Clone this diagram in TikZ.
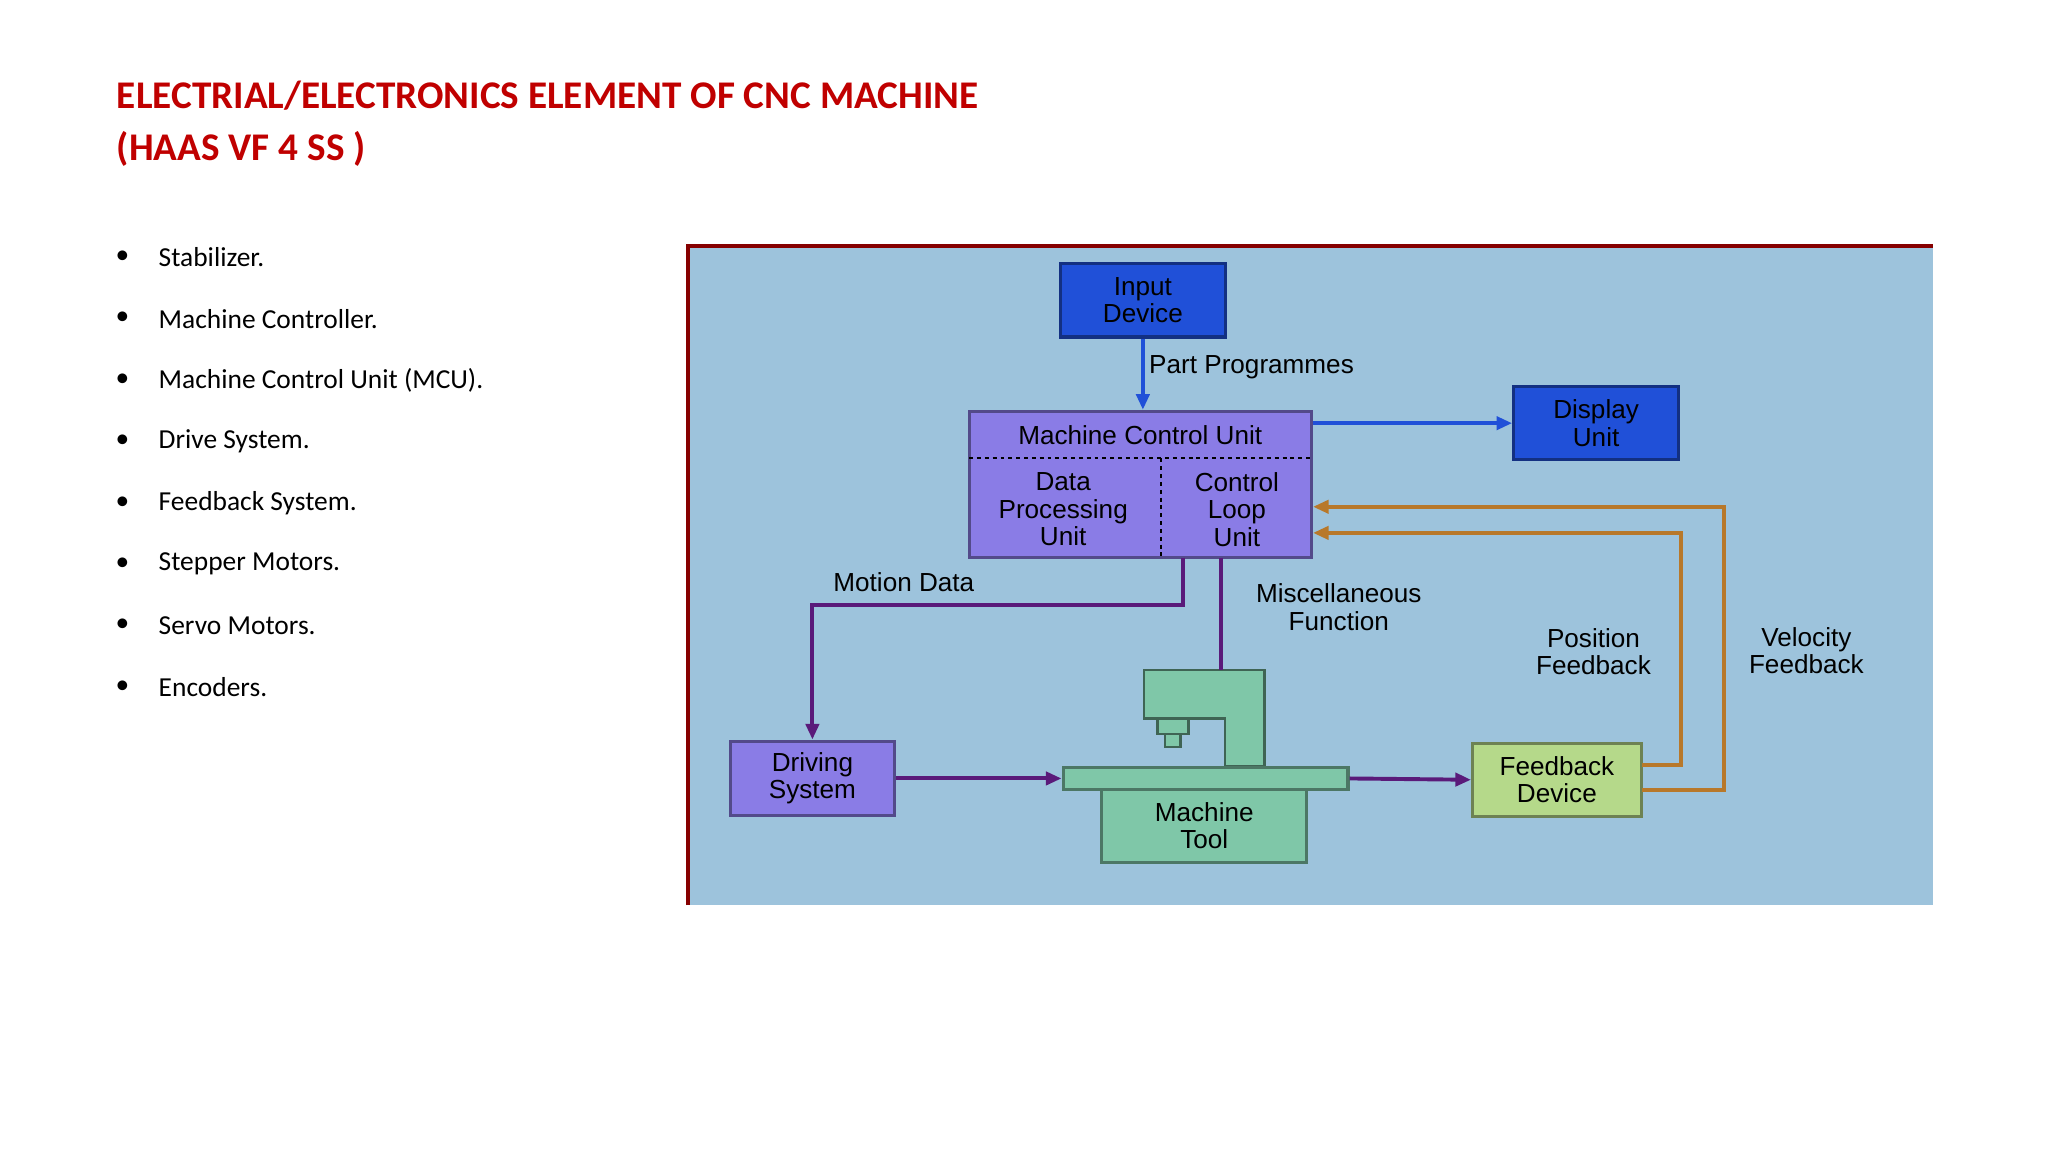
\documentclass[tikz,border=0pt]{standalone}
\usepackage{fontspec}
\setmainfont{Carlito}
\newfontfamily\dsans{Liberation Sans}
\usetikzlibrary{arrows.meta}
\definecolor{ttl}{HTML}{C00000}
\definecolor{bgb}{HTML}{9DC3DC}
\definecolor{bblue}{HTML}{2050D8}
\definecolor{bpur}{HTML}{8A7CE6}
\definecolor{lpur}{HTML}{5A1A7A}
\definecolor{mgreen}{HTML}{7FC7A8}
\definecolor{fgreen}{HTML}{B5D98A}
\definecolor{brn}{HTML}{B8782A}
\begin{document}
\begin{tikzpicture}[x=1pt,y=-1pt,
  box/.style={draw=#1!60!black,line width=2.5pt,inner sep=0pt,align=center,font=\dsans\fontsize{20}{21}\selectfont},
  lab/.style={align=center,font=\dsans\fontsize{20}{21}\selectfont},
  con/.style={line width=3pt,-{Triangle[length=12pt,width=10pt]}},
  bul/.style={anchor=west,font=\fontsize{21}{24}\selectfont}]
\useasboundingbox (0,0) rectangle (1568,882);
\fill[white] (0,0) rectangle (1568,882);
\node[anchor=west,text=ttl,font=\bfseries\fontsize{30}{34}\selectfont] (t1) at (86,73) {ELECTRIAL/ELECTRONICS ELEMENT OF CNC MACHINE};
\node[anchor=west,text=ttl,font=\bfseries\fontsize{30}{34}\selectfont] (t2) at (86,114) {(HAAS VF 4 SS )};
\foreach \t [count=\i from 0] in {Stabilizer.,Machine Controller.,Machine Control Unit (MCU).,Drive System.,Feedback System.,Stepper Motors.,Servo Motors.,Encoders.}{
  \node[bul] (b\i) at (85,197+47*\i) {•};
  \node[bul] (l\i) at (118,197+47*\i) {\t};}
\fill[bgb] (527,188) rectangle (1480,693);
\draw[line width=3pt,ttl!70!black] (527,693) -- (527,188) -- (1480,188);
% boxes
\node[box=bblue,fill=bblue,minimum width=126pt,minimum height=56pt] (in) at (875,230) {Input\\Device};
\node[box=bblue,fill=bblue,minimum width=126pt,minimum height=56pt] (du) at (1222,324) {Display\\Unit};
\node[box=bpur,fill=bpur,minimum width=262pt,minimum height=112pt] (mcu) at (873,371) {};
\node[lab] (mh) at (873,333) {Machine Control Unit};
\draw[dashed,line width=1.5pt] (742,351) -- (1004,351);
\draw[dashed,line width=1.5pt] (889,351) -- (889,427);
\node[lab] (dp) at (814,390) {Data\\Processing\\Unit};
\node[lab] (cl) at (947,390) {Control\\Loop\\Unit};
\node[box=bpur,fill=bpur,minimum width=126pt,minimum height=57pt] (ds) at (622,596) {Driving\\System};
\node[box=fgreen,fill=fgreen,minimum width=129pt,minimum height=56pt] (fd) at (1192,597) {Feedback\\Device};
% machine
\draw[line width=2pt,draw=mgreen!50!black,fill=mgreen] (876,513) -- (968,513) -- (968,587) -- (938,587) -- (938,550) -- (876,550) -- cycle;
\draw[line width=2pt,draw=mgreen!50!black,fill=mgreen] (886,550) rectangle (910,562);
\draw[line width=2pt,draw=mgreen!50!black,fill=mgreen] (892,562) rectangle (904,572);
\node[box=mgreen,fill=mgreen,minimum width=157pt,minimum height=57pt] (mt) at (922,632) {Machine\\Tool};
\node[box=mgreen,fill=mgreen,minimum width=218pt,minimum height=17pt] (tb) at (923,596) {};
\coordinate (col) at (935,513);
% connectors
\draw[con,bblue] (in) -- (in|-mcu.north) node[pos=0.4,right,lab,text=black] {Part Programmes};
\draw[con,bblue] (mcu.east|-du) -- (du.west);
\draw[con,lpur] (906,427) -- (906,463) -- (622,463) -- (ds.north);
\node[lab] (md) at (692,446) {Motion Data};
\draw[line width=3pt,lpur] (935,427) -- (col);
\node[lab] (mf) at (1025,465) {Miscellaneous\\Function};
\draw[con,lpur] (ds.east) -- (tb.west);
\draw[con,lpur] (tb.east) -- (fd.west);
\draw[con,brn] (1257,586) -- (1287,586) -- (1287,408) -- (mcu.east|-0,408);
\draw[con,brn] (1257,605) -- (1320,605) -- (1320,388) -- (mcu.east|-0,388);
\node[lab] (pf) at (1220,499) {Position\\Feedback};
\node[lab] (vf) at (1383,498) {Velocity\\Feedback};
\end{tikzpicture}
\end{document}
